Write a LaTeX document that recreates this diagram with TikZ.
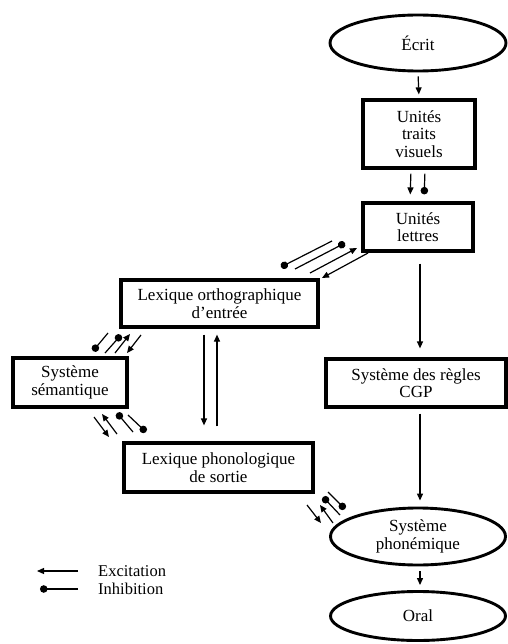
\documentclass[tikz,border=0pt]{standalone}
\usepackage{fontspec}
\setmainfont{Liberation Serif}
\usetikzlibrary{shapes.geometric,arrows.meta}
\tikzset{
  boxnode/.style={draw,line width=3.2pt,rectangle,inner sep=0pt,align=center,font=\fontsize{17}{17.5}\selectfont},
  ellnode/.style={draw,line width=2.9pt,ellipse,inner sep=0pt,align=center,font=\fontsize{17}{17.5}\selectfont},
  exc/.style={line width=1.2pt,-{Triangle[length=7pt,width=6pt]}},
  inh/.style={line width=1.2pt,-{Circle[length=7.5pt]}},
  legtext/.style={anchor=west,inner sep=0pt,font=\fontsize{16.5}{17}\selectfont}
}
\begin{document}
\begin{tikzpicture}[x=1pt,y=-1pt]
\useasboundingbox (0,0) rectangle (507,644);
% nodes
\node[ellnode,minimum width=176pt,minimum height=56pt] (ecrit) at (418,43) {Écrit};
\node[boxnode,minimum width=112pt,minimum height=68pt] (traits) at (419,134) {Unités\\traits\\visuels};
\node[boxnode,minimum width=110pt,minimum height=48pt] (lettres) at (418,227) {Unités\\lettres};
\node[boxnode,minimum width=197pt,minimum height=47pt] (ortho) at (219.5,303.5) {Lexique orthographique\\d’entrée};
\node[boxnode,minimum width=114pt,minimum height=49pt] (sem) at (70,382.5) {Système\\sémantique};
\node[boxnode,minimum width=180pt,minimum height=48pt] (cgp) at (416,383) {Système des règles\\CGP};
\node[boxnode,minimum width=189pt,minimum height=49pt] (phono) at (218.5,467.5) {Lexique phonologique\\de sortie};
\node[ellnode,minimum width=175pt,minimum height=57pt] (phonem) at (418,536.5) {Système\\phonémique};
\node[ellnode,minimum width=175pt,minimum height=49pt] (oral) at (418,616) {Oral};
% main vertical connectors
\draw[exc,shorten <=4pt,shorten >=4pt] (ecrit.south) -- (traits.north);
\draw[exc,shorten <=4pt,shorten >=7pt] ([xshift=-8pt]traits.south) -- ([xshift=-8pt]lettres.north);
\draw[inh,shorten <=4pt,shorten >=7pt] ([xshift=6pt]traits.south) -- ([xshift=6pt]lettres.north);
\draw[exc,shorten <=11pt,shorten >=9pt] ([xshift=2pt]lettres.south) -- ([xshift=2pt]lettres.south |- cgp.north);
\draw[exc,shorten <=5pt,shorten >=6pt] ([xshift=4pt]cgp.south) -- ([xshift=4pt]cgp.south |- phonem.north);
\draw[exc,shorten <=5pt,shorten >=5pt] ([xshift=2pt]phonem.south) -- ([xshift=2pt]oral.north);
\draw[exc,shorten <=6pt,shorten >=16pt] ([xshift=-15.5pt]ortho.south) -- ([xshift=-15.5pt]ortho.south |- phono.north);
\draw[exc,shorten <=15pt,shorten >=6pt] ([xshift=-2.5pt]ortho.south |- phono.north) -- ([xshift=-2.5pt]ortho.south);
% group lettres <-> ortho
\coordinate (a1s) at (332,241); \coordinate (a1e) at (281,267);
\coordinate (a2s) at (295,269); \coordinate (a2e) at (345,243);
\coordinate (a3s) at (310,273); \coordinate (a3e) at (357,248);
\coordinate (a4s) at (368,253); \coordinate (a4e) at (322,278);
\draw[inh] (a1s) -- (a1e);
\draw[inh] (a2s) -- (a2e);
\draw[exc] (a3s) -- (a3e);
\draw[exc] (a4s) -- (a4e);
% group ortho <-> sem
\coordinate (b1s) at (108,333); \coordinate (b1e) at (93,351);
\coordinate (b2s) at (105,353); \coordinate (b2e) at (121,335);
\coordinate (b3s) at (115,353); \coordinate (b3e) at (130,334);
\coordinate (b4s) at (141,335); \coordinate (b4e) at (127,353);
\draw[inh] (b1s) -- (b1e);
\draw[inh] (b2s) -- (b2e);
\draw[exc] (b3s) -- (b3e);
\draw[exc] (b4s) -- (b4e);
% group sem <-> phono
\coordinate (c1s) at (94,417); \coordinate (c1e) at (109,437);
\coordinate (c2s) at (117,434); \coordinate (c2e) at (102,414);
\coordinate (c3s) at (133,432); \coordinate (c3e) at (117,413);
\coordinate (c4s) at (128,415); \coordinate (c4e) at (146,432);
\draw[exc] (c1s) -- (c1e);
\draw[exc] (c2s) -- (c2e);
\draw[inh] (c3s) -- (c3e);
\draw[inh] (c4s) -- (c4e);
% group phono <-> phonem
\coordinate (d1s) at (307,505); \coordinate (d1e) at (321,523);
\coordinate (d2s) at (333,523); \coordinate (d2e) at (320,505);
\coordinate (d3s) at (340,515); \coordinate (d3e) at (323,497);
\coordinate (d4s) at (328,492); \coordinate (d4e) at (345,509);
\draw[exc] (d1s) -- (d1e);
\draw[exc] (d2s) -- (d2e);
\draw[inh] (d3s) -- (d3e);
\draw[inh] (d4s) -- (d4e);
% legend
\node[legtext] (lexc) at (98,571) {Excitation};
\node[legtext] (linh) at (98,589) {Inhibition};
\coordinate (le1) at (78,571); \coordinate (le2) at (37,571);
\coordinate (li1) at (78,589); \coordinate (li2) at (40,589);
\draw[exc] (le1) -- (le2);
\draw[inh] (li1) -- (li2);
\end{tikzpicture}
\end{document}
